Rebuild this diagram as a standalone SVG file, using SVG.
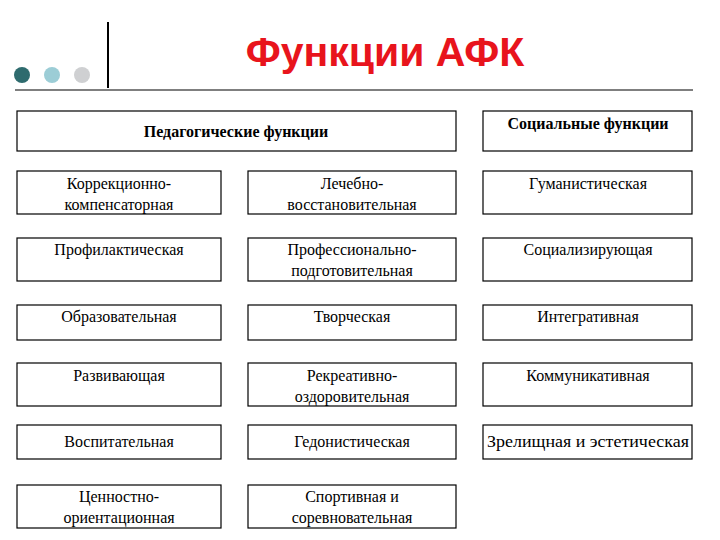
<svg xmlns="http://www.w3.org/2000/svg" width="720" height="540" viewBox="0 0 720 540">
<style>
.b{fill:#fff;stroke:#000;stroke-width:1.2}
.t{font-family:'Liberation Serif','DejaVu Serif',serif;font-size:16px;text-anchor:middle;fill:#000}
.h{font-weight:bold}
</style>
<rect width="720" height="540" fill="#fff"/>
<g id="header">
<line x1="108" y1="22" x2="108" y2="88" stroke="#000" stroke-width="2"/>
<line x1="15" y1="90" x2="693" y2="90" stroke="#000" stroke-width="1.2"/>
<circle cx="22" cy="75" r="8" fill="#2e6b6e"/>
<circle cx="52" cy="75" r="8" fill="#9ccdd6"/>
<circle cx="82" cy="75" r="8" fill="#cfd0d2"/>
<text x="385" y="66" font-family="Liberation Sans,sans-serif" font-weight="bold" font-size="41" fill="#e8141c" text-anchor="middle">Функции АФК</text>
</g>
<g id="ped"><rect class="b" x="17" y="111" width="439" height="40"/><text class="t h" x="236" y="137">Педагогические функции</text></g>
<g id="soc"><rect class="b" x="483" y="111" width="209" height="40"/><text class="t h" x="588" y="129">Социальные функции</text></g>
<g id="r1c1"><rect class="b" x="17" y="171" width="204" height="43"/><text class="t" x="119" y="189">Коррекционно-</text><text class="t" x="119" y="210">компенсаторная</text></g>
<g id="r1c2"><rect class="b" x="248" y="171" width="208" height="43"/><text class="t" x="352" y="189">Лечебно-</text><text class="t" x="352" y="210">восстановительная</text></g>
<g id="r1c3"><rect class="b" x="483" y="171" width="209" height="43"/><text class="t" x="588" y="189">Гуманистическая</text></g>
<g id="r2c1"><rect class="b" x="17" y="238" width="204" height="43"/><text class="t" x="119" y="255">Профилактическая</text></g>
<g id="r2c2"><rect class="b" x="248" y="238" width="208" height="43"/><text class="t" x="352" y="255">Профессионально-</text><text class="t" x="352" y="276">подготовительная</text></g>
<g id="r2c3"><rect class="b" x="483" y="238" width="209" height="43"/><text class="t" x="588" y="255">Социализирующая</text></g>
<g id="r3c1"><rect class="b" x="17" y="305" width="204" height="35"/><text class="t" x="119" y="322">Образовательная</text></g>
<g id="r3c2"><rect class="b" x="248" y="305" width="208" height="35"/><text class="t" x="352" y="322">Творческая</text></g>
<g id="r3c3"><rect class="b" x="483" y="305" width="209" height="35"/><text class="t" x="588" y="322">Интегративная</text></g>
<g id="r4c1"><rect class="b" x="17" y="363" width="204" height="43"/><text class="t" x="119" y="381">Развивающая</text></g>
<g id="r4c2"><rect class="b" x="248" y="363" width="208" height="43"/><text class="t" x="352" y="381">Рекреативно-</text><text class="t" x="352" y="402">оздоровительная</text></g>
<g id="r4c3"><rect class="b" x="483" y="363" width="209" height="43"/><text class="t" x="588" y="381">Коммуникативная</text></g>
<g id="r5c1"><rect class="b" x="17" y="425" width="204" height="34"/><text class="t" x="119" y="447">Воспитательная</text></g>
<g id="r5c2"><rect class="b" x="248" y="425" width="208" height="34"/><text class="t" x="352" y="447">Гедонистическая</text></g>
<g id="r5c3"><rect class="b" x="483" y="425" width="209" height="34"/><text class="t" x="588" y="447" textLength="202" lengthAdjust="spacingAndGlyphs">Зрелищная и эстетическая</text></g>
<g id="r6c1"><rect class="b" x="17" y="485" width="204" height="43"/><text class="t" x="119" y="502">Ценностно-</text><text class="t" x="119" y="523">ориентационная</text></g>
<g id="r6c2"><rect class="b" x="248" y="485" width="208" height="43"/><text class="t" x="352" y="502">Спортивная и</text><text class="t" x="352" y="523">соревновательная</text></g>
<g id="connectors"/>
</svg>
